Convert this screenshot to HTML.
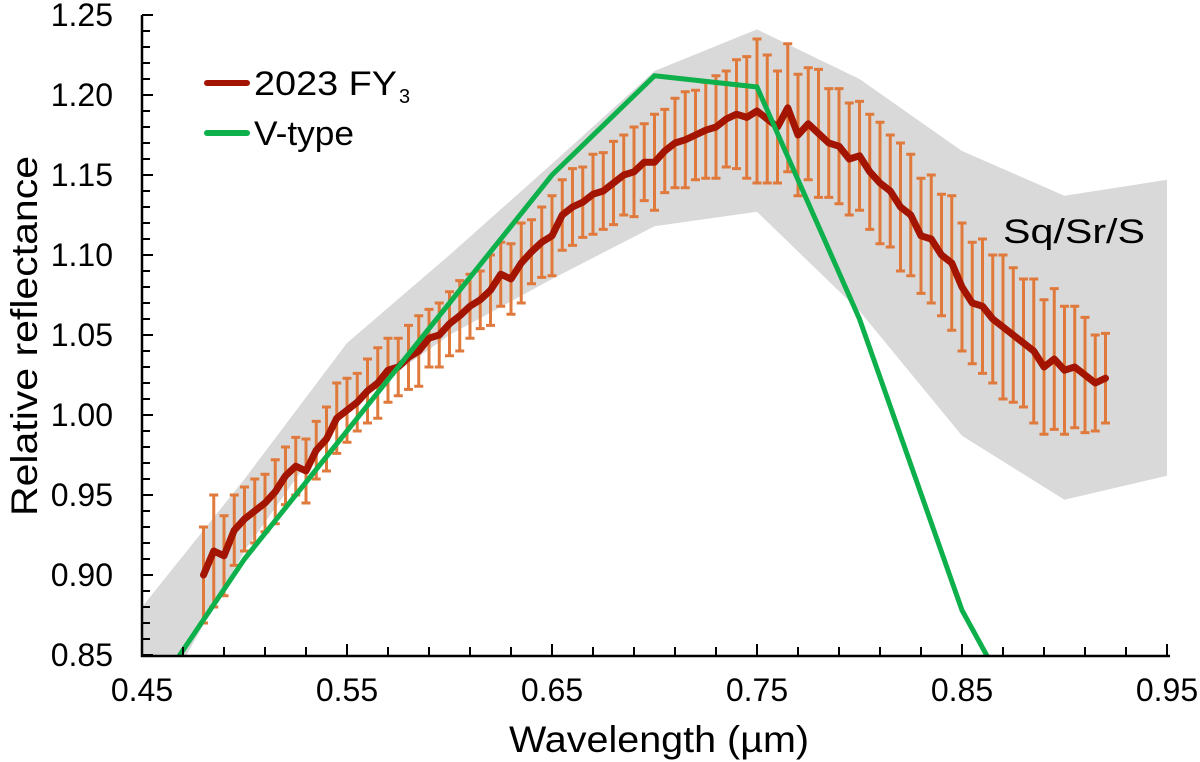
<!DOCTYPE html>
<html><head><meta charset="utf-8"><style>
html,body{margin:0;padding:0;background:#fff;overflow:hidden;width:1200px;height:762px;}
svg{display:block;font-family:"Liberation Sans",Arial,sans-serif;}
</style></head><body>
<svg id="chart" width="1200" height="762" viewBox="0 0 1200 762">
<defs><clipPath id="plotclip"><rect x="142" y="0" width="1030" height="656"/></clipPath></defs>
<g id="band" clip-path="url(#plotclip)"></g>
<g id="errs" clip-path="url(#plotclip)"></g>
<g id="series" clip-path="url(#plotclip)"></g>
<g id="axes"></g>
<text x="1003" y="243" font-size="34" fill="#000" textLength="142" lengthAdjust="spacingAndGlyphs">Sq/Sr/S</text>
<g>
<g>
<line x1="207" y1="83" x2="247" y2="83" stroke="#a31500" stroke-width="6" stroke-linecap="round"/>
<text x="254" y="95" font-size="34" textLength="143" lengthAdjust="spacingAndGlyphs">2023 FY</text><text x="399" y="103" font-size="20">3</text></g>
<g>
<line x1="207" y1="133" x2="247" y2="133" stroke="#0db04b" stroke-width="6" stroke-linecap="round"/>
<text x="254" y="145" font-size="34" textLength="100" lengthAdjust="spacingAndGlyphs">V-type</text></g>
</g>
<text x="659" y="752" font-size="37" text-anchor="middle" textLength="300" lengthAdjust="spacingAndGlyphs">Wavelength (µm)</text>
<text transform="translate(37,336) rotate(-90)" font-size="37" text-anchor="middle" textLength="360" lengthAdjust="spacingAndGlyphs">Relative reflectance</text>
</svg>
<script>
const xTicks=["0.45","0.55","0.65","0.75","0.85","0.95"];
const yTicks=["0.85","0.90","0.95","1.00","1.05","1.10","1.15","1.20","1.25"];
const bandX=[0.45,0.50,0.55,0.60,0.65,0.70,0.75,0.80,0.85,0.90,0.95];
const bandUpper=[0.880,0.960,1.045,1.100,1.157,1.215,1.241,1.210,1.165,1.137,1.147];
const bandLower=[0.800,0.915,1.005,1.050,1.085,1.118,1.127,1.065,0.987,0.947,0.962];
const vX=[0.45,0.50,0.55,0.60,0.65,0.70,0.75,0.80,0.85,0.90];
const vY=[0.815,0.910,0.990,1.070,1.150,1.212,1.205,1.060,0.878,0.761];
const fyStart=0.48, fyStep=0.005;
const fyY=[0.900,0.915,0.912,0.928,0.935,0.940,0.945,0.952,0.962,0.968,0.965,0.978,0.985,0.998,1.003,1.008,1.015,1.020,1.028,1.030,1.036,1.040,1.048,1.050,1.057,1.062,1.068,1.072,1.078,1.088,1.085,1.095,1.102,1.108,1.112,1.125,1.130,1.133,1.138,1.140,1.145,1.150,1.152,1.158,1.158,1.165,1.170,1.172,1.175,1.178,1.180,1.185,1.188,1.186,1.190,1.185,1.180,1.192,1.175,1.182,1.176,1.170,1.168,1.160,1.162,1.152,1.145,1.140,1.130,1.125,1.112,1.110,1.100,1.095,1.080,1.070,1.068,1.060,1.055,1.050,1.045,1.040,1.030,1.035,1.028,1.030,1.025,1.020,1.023];
const fyErr=[0.030,0.035,0.025,0.022,0.020,0.020,0.018,0.020,0.018,0.018,0.020,0.018,0.020,0.022,0.020,0.018,0.020,0.022,0.020,0.018,0.020,0.022,0.018,0.020,0.020,0.022,0.020,0.018,0.022,0.020,0.022,0.025,0.020,0.022,0.025,0.022,0.024,0.022,0.025,0.024,0.026,0.025,0.028,0.024,0.030,0.026,0.028,0.030,0.028,0.030,0.032,0.030,0.034,0.038,0.045,0.040,0.035,0.040,0.038,0.035,0.040,0.034,0.036,0.035,0.034,0.036,0.038,0.035,0.040,0.038,0.036,0.040,0.038,0.042,0.040,0.038,0.042,0.040,0.045,0.042,0.040,0.045,0.042,0.044,0.040,0.038,0.036,0.030,0.028];
const NS="http://www.w3.org/2000/svg";
const X=v=>142+(v-0.45)/0.5*1025;
const Y=v=>655-(v-0.85)/0.40*640;
function mk(tag,attrs,parent){const e=document.createElementNS(NS,tag);for(const k in attrs)e.setAttribute(k,attrs[k]);parent.appendChild(e);return e;}
let pts=bandX.map((x,i)=>X(x)+","+Y(bandUpper[i]));
for(let i=bandX.length-1;i>=0;i--)pts.push(X(bandX[i])+","+Y(bandLower[i]));
const band=mk("polygon",{points:pts.join(" "),fill:"#d9d9d9"},document.getElementById("band"));


const eg=document.getElementById("errs");
fyY.forEach((v,i)=>{const x=X(fyStart+i*fyStep),t=Y(v+fyErr[i]),b=Y(v-fyErr[i]);
const p=mk("path",{d:`M${x},${t}V${b}M${x-4.5},${t}H${x+4.5}M${x-4.5},${b}H${x+4.5}`,stroke:"#e07a3c","stroke-width":3,fill:"none"},eg);

});
const sg=document.getElementById("series");
const fy=mk("polyline",{points:fyY.map((v,i)=>X(fyStart+i*fyStep)+","+Y(v)).join(" "),fill:"none",stroke:"#a31500","stroke-width":7,"stroke-linejoin":"round","stroke-linecap":"round"},sg);


const vl=mk("polyline",{points:vX.map((x,i)=>X(x)+","+Y(vY[i])).join(" "),fill:"none",stroke:"#0db04b","stroke-width":5,"stroke-linejoin":"miter"},sg);


const ag=document.getElementById("axes");
mk("path",{d:"M142,15V656H1170",stroke:"#000","stroke-width":2.5,fill:"none"},ag);
for(let i=0;i<=25;i++){const x=X(0.45+i*0.02);const major=(i%5===0);
mk("line",{x1:x,y1:656,x2:x,y2:major?644:647,stroke:"#000","stroke-width":2},ag);}
xTicks.forEach(t=>{const tx=mk("text",{x:X(+t),y:701,"font-size":32,"text-anchor":"middle"},ag);tx.textContent=t;

});
for(let i=0;i<=40;i++){const y=Y(0.85+i*0.01);const major=(i%5===0);
mk("line",{x1:142,y1:y,x2:major?153:150,y2:y,stroke:"#000","stroke-width":2},ag);}
yTicks.forEach(t=>{const ty=mk("text",{x:113,y:Y(+t)+11,"font-size":32,"text-anchor":"end"},ag);ty.textContent=t;

});
</script>
</body></html>
